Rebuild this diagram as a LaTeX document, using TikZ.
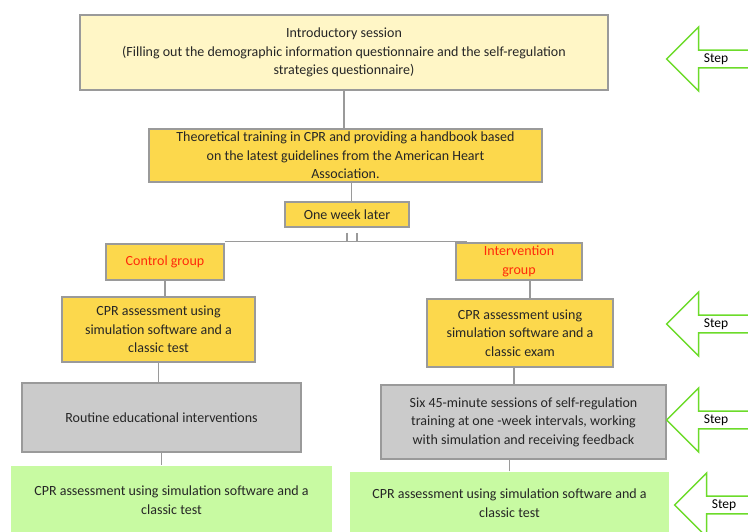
\documentclass[tikz,border=0pt]{standalone}
\usepackage{fontspec}
\setmainfont{Carlito}
\usetikzlibrary{shapes.arrows,positioning}

\definecolor{paleyellow}{HTML}{FFF6C6}
\definecolor{gold}{HTML}{FCD84C}
\definecolor{boxgray}{HTML}{CBCBCB}
\definecolor{palegreen}{HTML}{C8FAA2}
\definecolor{edgegray}{HTML}{9A9A9A}
\definecolor{stepgreen}{HTML}{6CDB2A}
\definecolor{groupred}{HTML}{FF2A0A}

\begin{document}
\begin{tikzpicture}[x=1pt, y=-1pt,
    box/.style={rectangle, draw=edgegray, line width=1.2pt, align=center, inner sep=0pt, text=black!85, font=\fontsize{14}{18.5}\selectfont},
    softbox/.style={box, fill=paleyellow},
    goldbox/.style={box, fill=gold},
    graybox/.style={box, fill=boxgray},
    greenbox/.style={box, draw=none, fill=palegreen},
    steparrow/.style={single arrow, shape border rotate=180, draw=stepgreen, line width=1.4pt, fill=white,
        minimum height=90pt, minimum width=64pt, single arrow head extend=16pt, inner sep=0pt,
        font=\fontsize{13.5}{15}\selectfont},
    link/.style={draw=edgegray, line width=1.2pt}
]
\useasboundingbox (0,0) rectangle (748,532);
\clip (0,0) rectangle (748,532);

% Introductory session
\node[softbox, minimum width=528pt, minimum height=75pt] (intro) at (344,52.5) {
    Introductory session\\
    (Filling out the demographic information questionnaire and the self-regulation\\
    strategies questionnaire)
};

% Theoretical training
\node[goldbox, minimum width=393pt, minimum height=53pt] (theory) at (345.5,155.5) {
    Theoretical training in CPR and providing a handbook based\\
    on the latest guidelines from the American Heart\\
    Association.
};

\node[goldbox, minimum width=124pt, minimum height=25pt] (week) at (347,214.5) {One week later};

% Groups
\node[goldbox, minimum width=118pt, minimum height=36pt, text=groupred] (control) at (165,262) {Control group};
\node[goldbox, minimum width=126pt, minimum height=37pt, text=groupred] (interv) at (519,261.5) {Intervention\\group};

% First assessment
\node[goldbox, minimum width=193pt, minimum height=65pt] (assessA) at (158.5,329.5) {
    CPR assessment using\\
    simulation software and a\\
    classic test
};
\node[goldbox, minimum width=186pt, minimum height=68pt] (assessB) at (520,333) {
    CPR assessment using\\
    simulation software and a\\
    classic exam
};

% Interventions
\node[graybox, minimum width=279pt, minimum height=69pt] (routine) at (161.5,417.5) {Routine educational interventions};
\node[graybox, minimum width=285pt, minimum height=74pt] (sessions) at (523.5,422) {
    Six 45-minute sessions of self-regulation\\
    training at one -week intervals, working\\
    with simulation and receiving feedback
};

% Final assessment
\node[greenbox, minimum width=321pt, minimum height=68pt] (finalA) at (171.5,500) {
    CPR assessment using simulation software and a\\
    classic test
};
\node[greenbox, minimum width=319pt, minimum height=62pt] (finalB) at (509.5,503) {
    CPR assessment using simulation software and a\\
    classic test
};

% Step arrows
\node[steparrow] (step1) at (716,59) {Step};
\node[steparrow] (step2) at (716,324) {Step};
\node[steparrow] (step3) at (716,420) {Step};
\node[steparrow] (step4) at (724,505) {Step};

% Connectors
\draw[link] (intro.south) -- (intro.south |- theory.north);
\draw[link] ([xshift=6pt]theory.south) -- ([xshift=6pt]theory.south |- week.north);
\draw[link] ([yshift=-5pt]week.south) -- ([yshift=-14pt]week.south) -- ([xshift=10pt,yshift=-14pt]week.south) -- ([xshift=10pt,yshift=-5pt]week.south);
\draw[link] ([yshift=2pt]control.north east) -- ([xshift=12pt,yshift=1pt]interv.north west);
\draw[link] (control.south) -- (control.south |- assessA.north);
\draw[link] ([xshift=11pt]interv.south) -- ([xshift=11pt]interv.south |- assessB.north);
\draw[link] (assessA.south) -- (assessA.south |- routine.north);
\draw[link] ([xshift=-6pt]assessB.south) -- ([xshift=-6pt]assessB.south |- sessions.north);
\draw[link] (routine.south) -- (routine.south |- finalA.north);
\draw[link] (finalB.north) -- (finalB.north |- sessions.south);

\end{tikzpicture}
\end{document}
